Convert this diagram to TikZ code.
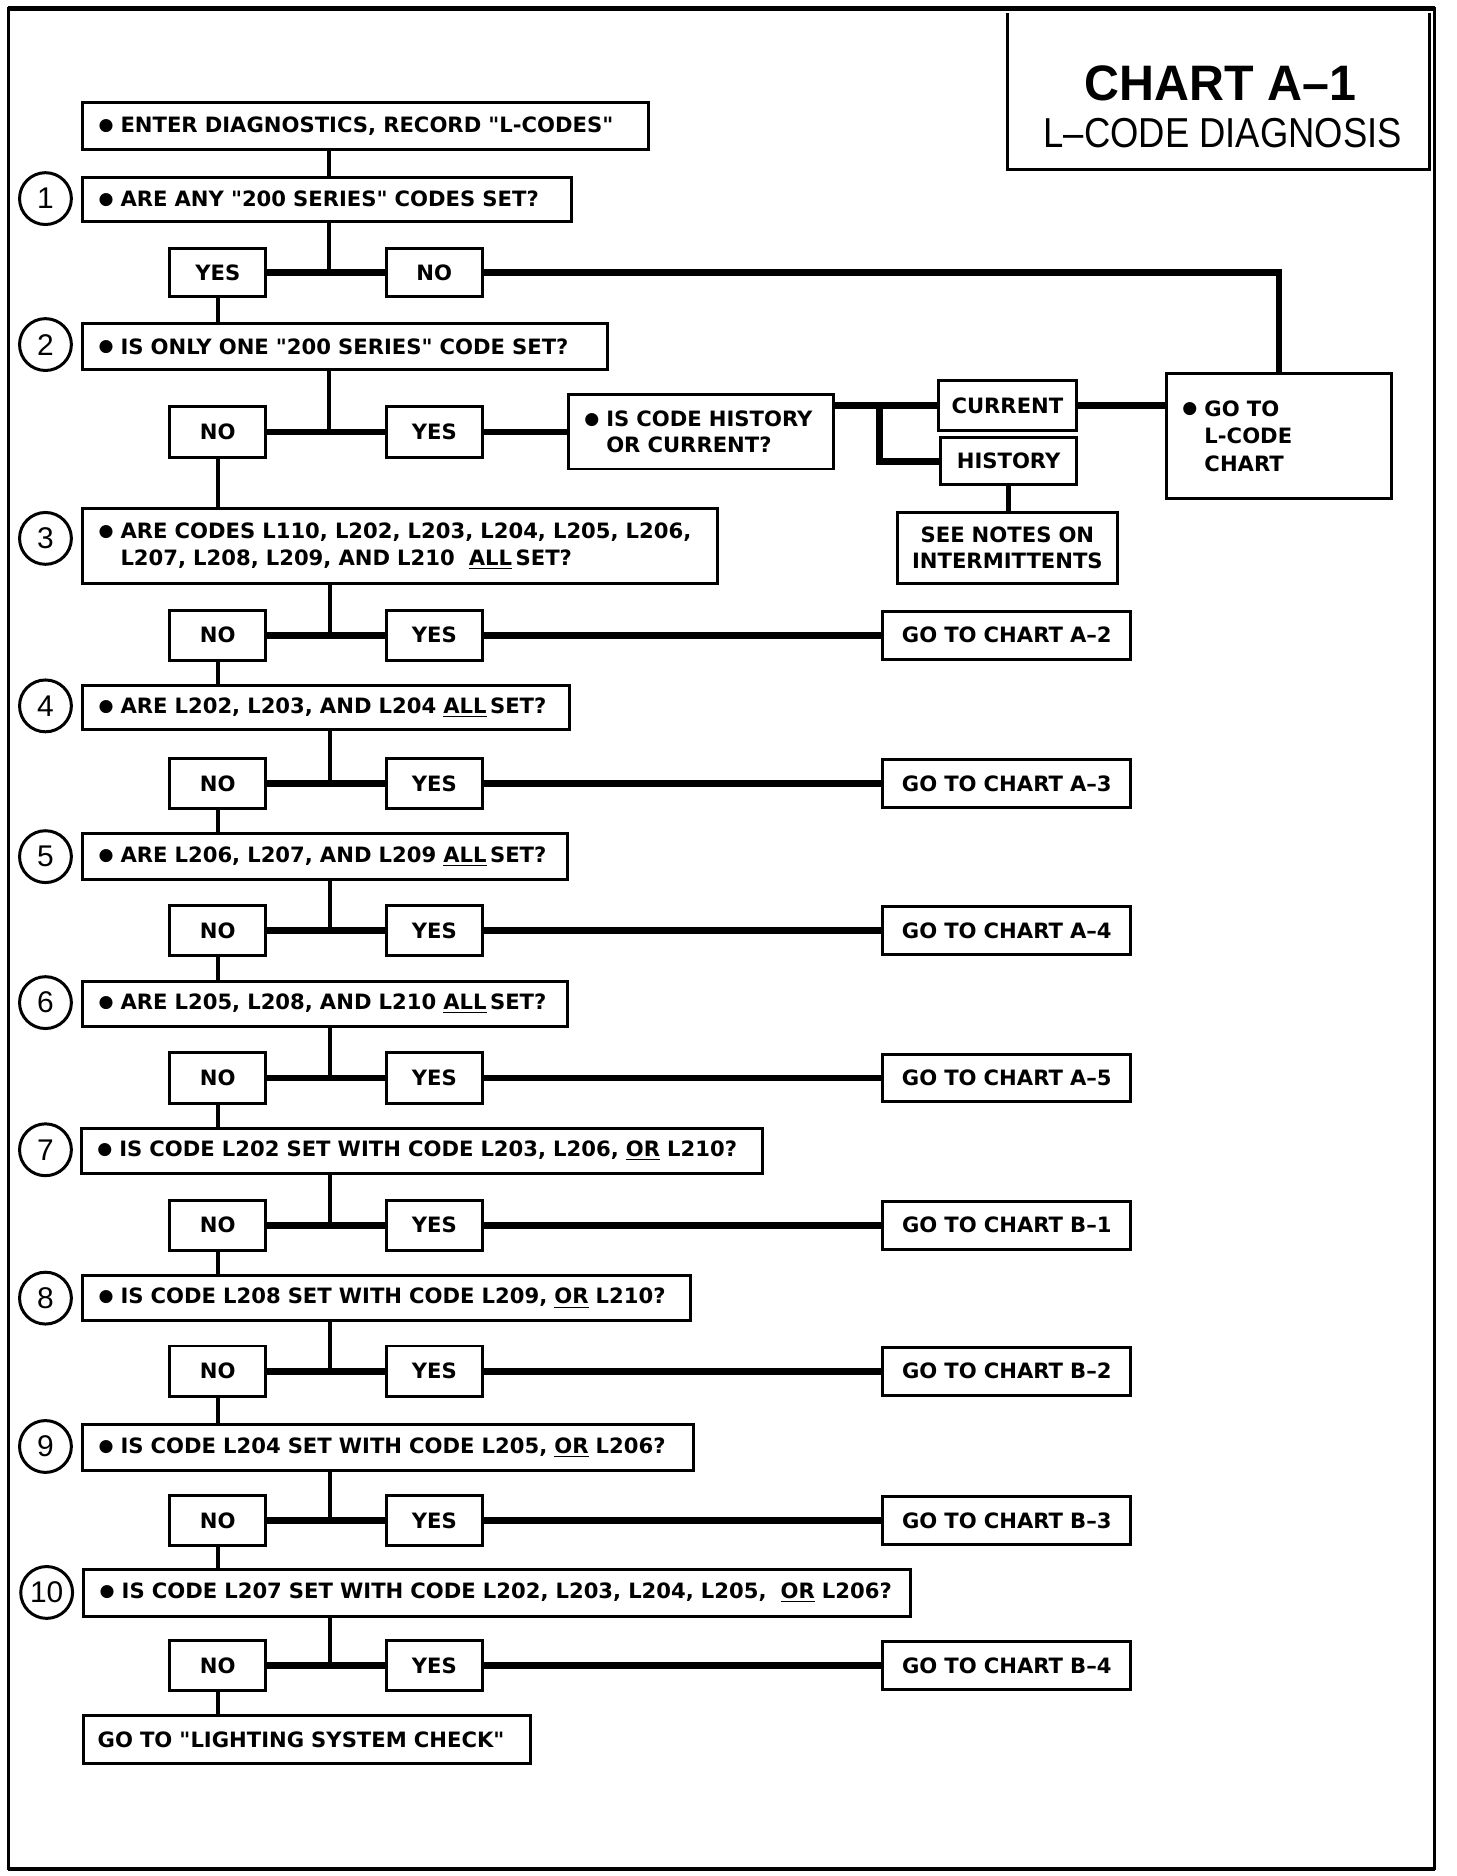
\documentclass[tikz,border=0pt]{standalone}
\usepackage{fontspec}
\setmainfont{DejaVu Sans}
\newfontfamily\bodyfont{DejaVu Sans}
\newfontfamily\titlefont{Liberation Sans}
\tikzset{
  bx/.style={draw, line width=1.5pt, inner ysep=0pt, inner xsep=3pt,
    font=\bodyfont\bfseries\fontsize{10.6}{13.2}\selectfont},
  num/.style={draw, circle, line width=1.5pt, minimum size=26pt, inner sep=0pt,
    font=\titlefont\fontsize{15}{15}\selectfont},
  vl/.style={line width=2.2pt},
  hl/.style={line width=3.4pt},
}
\newcommand\mybox[7][]{%
  \pgfmathsetmacro\bw{(#5-#3)*0.6}%
  \pgfmathsetmacro\bh{(#6-#4)*0.6}%
  \pgfmathsetmacro\tw{\bw-6}%
  \node[bx,align=center,#1,text width=\tw pt,minimum height=\bh pt] (#2) at ({(#3+#5)/2},{(#4+#6)/2}) {#7};%
}
\newcommand\blt{\raisebox{1.2pt}{\fontsize{8.6}{8.6}\selectfont ●}}
\newcommand\Q[1]{\mbox{\hspace*{5pt}\blt\ #1}}
\newcommand\QQ[1]{\mbox{\hspace*{5pt}\phantom{\blt\ }#1}}
\begin{document}
\begin{tikzpicture}[x=0.6pt,y=-0.6pt]
\useasboundingbox (0,0) rectangle (1217,1568);
% frame
\draw[line width=1.4pt] (7,7) rectangle (1199,1562);
\draw[line width=2.2pt] (7,7) -- (1199,7);
\draw[line width=2.2pt] (7,1562) -- (1199,1562);
% title box
\draw[line width=1.6pt] (842,11) -- (842,142) -- (1195,142) -- (1195,11);
\node[font=\titlefont\bfseries\fontsize{25}{25}\selectfont] (t1) at (1020,70) {\scalebox{0.97}[1]{CHART A–1}};
\node[font=\titlefont\fontsize{21}{21}\selectfont] (t2) at (1022,111) {\scalebox{0.87}[1]{L–CODE DIAGNOSIS}};

% question boxes
\mybox[align=left]{q0}{69}{86}{542}{125}{\Q{ENTER DIAGNOSTICS, RECORD "L-CODES"}}
\mybox[align=left]{q1}{69}{148}{478}{185}{\Q{ARE ANY "200 SERIES" CODES SET?}}
\mybox[align=left]{q2}{69}{270}{508}{309}{\Q{IS ONLY ONE "200 SERIES" CODE SET?}}
\mybox[align=left]{q3}{69}{425}{600}{488}{\Q{ARE CODES L110, L202, L203, L204, L205, L206,}\\\QQ{L207, L208, L209, AND L210 \ \underline{ALL}\,SET?}}
\mybox[align=left]{q4}{69}{573}{476}{610}{\Q{ARE L202, L203, AND L204 \underline{ALL}\,SET?}}
\mybox[align=left]{q5}{69}{697}{474}{735}{\Q{ARE L206, L207, AND L209 \underline{ALL}\,SET?}}
\mybox[align=left]{q6}{69}{820}{474}{858}{\Q{ARE L205, L208, AND L210 \underline{ALL}\,SET?}}
\mybox[align=left]{q7}{68}{943}{637}{981}{\Q{IS CODE L202 SET WITH CODE L203, L206, \underline{OR} L210?}}
\mybox[align=left]{q8}{69}{1066}{577}{1104}{\Q{IS CODE L208 SET WITH CODE L209, \underline{OR} L210?}}
\mybox[align=left]{q9}{69}{1191}{580}{1229}{\Q{IS CODE L204 SET WITH CODE L205, \underline{OR} L206?}}
\mybox[align=left]{q10}{70}{1312}{761}{1351}{\Q{IS CODE L207 SET WITH CODE L202, L203, L204, L205, \ \underline{OR} L206?}}
\mybox[align=left]{fin}{70}{1434}{443}{1474}{\mbox{\hspace*{4pt}GO TO "LIGHTING SYSTEM CHECK"}}

% circles
\node[num] (c1) at (38,166) {1};
\node[num] (c2) at (38,288) {2};
\node[num] (c3) at (38,450) {3};
\node[num] (c4) at (38,590) {4};
\node[num] (c5) at (38,716) {5};
\node[num] (c6) at (38,838) {6};
\node[num] (c7) at (38,961) {7};
\node[num] (c8) at (38,1085) {8};
\node[num] (c9) at (38,1209) {9};
\node[num] (c10) at (39,1331) {10};

% level 1
\mybox{yes1}{142}{208}{222}{248}{YES}
\mybox{no1}{323}{208}{403}{248}{NO}
\coordinate (j1) at (275,228);
% level 2
\mybox{no2}{142}{340}{222}{382}{NO}
\mybox{yes2}{323}{340}{403}{382}{YES}
\coordinate (j2) at (275,361);
\mybox[align=left]{hc}{475}{330}{697}{392}{\Q{IS CODE HISTORY}\\\QQ{OR CURRENT?}}
\mybox{cur}{784}{318}{900}{360}{CURRENT}
\mybox{hist}{786}{366}{900}{405}{HISTORY}
\mybox{notes}{750}{428}{934}{488}{SEE NOTES ON\\INTERMITTENTS}
\mybox[align=left,font=\bodyfont\bfseries\fontsize{10.6}{13.8}\selectfont]{lcode}{975}{312}{1163}{417}{\Q{GO TO}\\\QQ{L-CODE}\\\QQ{CHART}\\[14pt]}
\coordinate (br) at (735,339);

% connectors top part
\draw[vl] (q0.south -| j1) -- (q1.north -| j1);
\draw[vl] (q1.south -| j1) -- (j1);
\draw[hl] (yes1) -- (no1);
\draw[hl] (no1.east) -| (lcode.north);
\draw[vl] (yes1.south) -- (yes1.south |- q2.north);
\draw[vl] (q2.south -| j2) -- (j2);
\draw[hl] (no2) -- (yes2);
\draw[hl] (yes2) -- (yes2 -| hc.west);
\draw[hl] (hc.east |- cur) -- (cur.west);
\draw[hl] (br) |- (hist.west);
\draw[hl] (cur.east) -- (cur -| lcode.west);
\draw[vl] (hist.south) -- (hist.south |- notes.north);
\draw[vl] (no2.south) -- (no2.south |- q3.north);

% levels 3..10
\foreach \k/\y/\g/\nx in {3/531/A–2/q4, 4/655/A–3/q5, 5/778/A–4/q6, 6/901/A–5/q7, 7/1024/B–1/q8, 8/1146/B–2/q9, 9/1271/B–3/q10, 10/1392/B–4/fin}{
  \pgfmathsetmacro\ya{\y-21}
  \pgfmathsetmacro\yb{\y+21}
  \pgfmathsetmacro\ga{\y-20}
  \pgfmathsetmacro\gb{\y+20}
  \mybox{no\k}{142}{\ya}{222}{\yb}{NO}
  \mybox{yes\k}{323}{\ya}{403}{\yb}{YES}
  \mybox{go\k}{738}{\ga}{945}{\gb}{GO TO CHART \g}
  \coordinate (j\k) at (276,\y);
  \draw[vl] (q\k.south -| j\k) -- (j\k);
  \draw[hl] (no\k) -- (yes\k);
  \draw[hl] (yes\k) -- (go\k);
  \draw[vl] (no\k.south) -- (no\k.south |- \nx.north);
}
\end{tikzpicture}
\end{document}
